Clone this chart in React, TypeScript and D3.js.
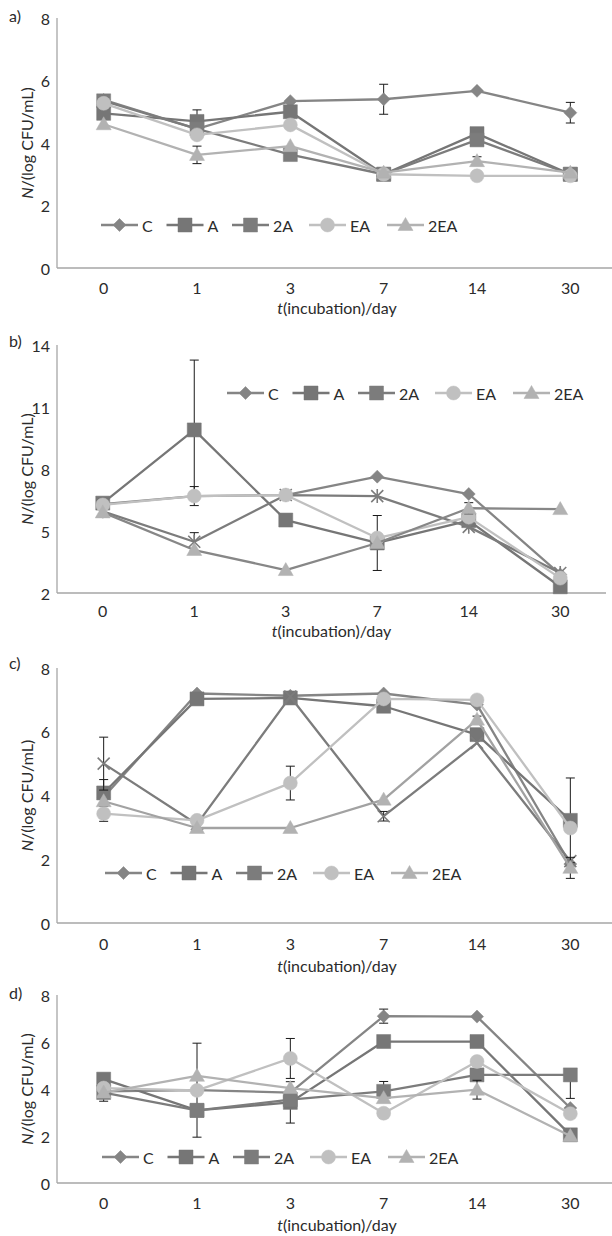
import React from "react";
import * as d3 from "d3";

// ---- data ----
const days = ["0", "1", "3", "7", "14", "30"];
const seriesNames = ["C", "A", "2A", "EA", "2EA"];

// panel a
const aC = [5.38, 4.45, 5.34, 5.4, 5.67, 4.97];
const aA = [4.95, 4.69, 5.0, 3.0, 4.3, 3.0];
const a2A = [5.35, 4.45, 3.63, 3.0, 4.1, 3.0];
const aEA = [5.27, 4.26, 4.58, 3.0, 2.95, 2.95];
const a2EA = [4.6, 3.62, 3.9, 3.05, 3.42, 3.05];
// error bars (0 = none, negative = lower half only)
const aErrC = [0, 0, 0, 0.48, 0, 0.33];
const aErrA = [0, 0.37, 0, 0, 0, 0];
const aErr2A = [0, 0, 0, 0, 0, 0];
const aErrEA = [0, 0, 0, 0, 0, 0];
const aErr2EA = [0, 0.28, 0, 0, 0.14, 0];

// panel b
const bC = [6.3, 6.69, 6.74, 7.63, 6.79, 2.9];
const bA = [6.35, 9.89, 5.53, 4.42, 5.5, 2.3];
const b2A = [5.95, 4.48, 6.74, 6.69, 5.2, 2.97];
const bEA = [6.26, 6.69, 6.74, 4.66, 5.67, 2.72];
const b2EA = [5.9, 4.08, 3.11, 4.42, 6.1, 6.06];
const bErrC = [0, 0, 0, 0, 0, 0];
const bErrA = [0, 3.38, 0, 1.33, 0, 0];
const bErr2A = [0, 0.44, 0, 0, 0, 0];
const bErrEA = [0, 0.46, 0, 0, 0, 0];
const bErr2EA = [0, 0, 0, 0, 0.27, 0];

// panel c
const cC = [3.95, 7.2, 7.13, 7.2, 6.85, 1.85];
const cA = [4.08, 7.03, 7.06, 6.8, 5.91, 3.22];
const c2A = [5.0, 3.1, 7.1, 3.35, 5.65, 1.94];
const cEA = [3.43, 3.22, 4.39, 7.03, 7.0, 2.98];
const c2EA = [3.82, 2.98, 2.98, 3.87, 6.38, 1.73];
const cErrC = [0, 0, 0, 0, 0, 0];
const cErrA = [0.42, 0, 0, 0, 0, 1.33];
const cErr2A = [0.83, 0, 0, 0.15, 0, 0];
const cErrEA = [0.24, 0, 0.53, 0, 0, 0];
const cErr2EA = [0, 0, 0, 0, 0.11, 0.33];

// panel d
const dC = [3.9, 3.95, 3.85, 7.1, 7.08, 3.19];
const dA = [4.42, 3.09, 3.43, 6.02, 6.02, 2.05];
const d2A = [3.85, 3.09, 3.55, 3.9, 4.6, 4.6];
const dEA = [4.04, 3.94, 5.3, 2.97, 5.17, 2.95];
const d2EA = [3.85, 4.56, 4.04, 3.61, 3.97, 2.0];
const dErrC = [0, 2.0, 0, 0.3, 0, 0];
const dErrA = [0, 0, 0.88, 0, 0, 0];
const dErr2A = [0.37, 0, 0, 0.42, 0, -1.0];
const dErrEA = [0, 0, 0.85, 0, 0, 0];
const dErr2EA = [0, 0, 0, 0, 0.4, 0];

const ticks8 = [0, 2, 4, 6, 8];
const ticks14 = [2, 5, 8, 11, 14];

// ---- style ----
const FONT = "Lato, 'Open Sans', sans-serif";
const FS = 16;
const TEXT = "#2b2b2b";
const AXIS = "#a6a6a6";
const colors = ["#858585", "#767676", "#7c7c7c", "#c0c0c0", "#b2b2b2"];
const baseMarkers = ["diamond", "square", "square", "circle", "triangle"];
const legendOffsets = [0, 65.5, 131, 208, 286];

const panels = [
  {
    tag: "a)", tagY: 15, top: 18, bottom: 268, yMin: 0, yMax: 8, ticks: ticks8,
    xRange: [57, 617], legendX: 101, legendY: 225, xLabelY: 287, titleY: 307,
    series: [aC, aA, a2A, aEA, a2EA], errs: [aErrC, aErrA, aErr2A, aErrEA, aErr2EA],
    markers: baseMarkers, lineColors: colors,
  },
  {
    tag: "b)", tagY: 340, top: 345, bottom: 593, yMin: 2, yMax: 14, ticks: ticks14,
    xRange: [57, 606], legendX: 227, legendY: 393, xLabelY: 610, titleY: 630,
    series: [bC, bA, b2A, bEA, b2EA], errs: [bErrC, bErrA, bErr2A, bErrEA, bErr2EA],
    markers: ["diamond", "square", "asterisk", "circle", "triangle"],
    lineColors: ["#858585", "#767676", "#7c7c7c", "#c0c0c0", "#878787"],
  },
  {
    tag: "c)", tagY: 662, top: 668, bottom: 923, yMin: 0, yMax: 8, ticks: ticks8,
    xRange: [57, 617], legendX: 105, legendY: 873, xLabelY: 943, titleY: 965,
    series: [cC, cA, c2A, cEA, c2EA], errs: [cErrC, cErrA, cErr2A, cErrEA, cErr2EA],
    markers: ["diamond", "square", "x", "circle", "triangle"],
    lineColors: ["#858585", "#767676", "#7c7c7c", "#c0c0c0", "#a2a2a2"],
  },
  {
    tag: "d)", tagY: 992, top: 995, bottom: 1183, yMin: 0, yMax: 8, ticks: ticks8,
    xRange: [57, 617], legendX: 102, legendY: 1157, xLabelY: 1202, titleY: 1224,
    series: [dC, dA, d2A, dEA, d2EA], errs: [dErrC, dErrA, dErr2A, dErrEA, dErr2EA],
    markers: baseMarkers, lineColors: colors,
  },
];

function markerPath(kind: string): string {
  const p = d3.path();
  if (kind === "diamond") {
    p.moveTo(0, -6.5); p.lineTo(6.5, 0); p.lineTo(0, 6.5); p.lineTo(-6.5, 0); p.closePath();
  } else if (kind === "square") {
    p.rect(-7, -7, 14, 14);
  } else if (kind === "circle") {
    p.arc(0, 0, 7, 0, Math.PI * 2);
  } else if (kind === "triangle") {
    p.moveTo(0, -7.5); p.lineTo(7.5, 5.5); p.lineTo(-7.5, 5.5); p.closePath();
  } else if (kind === "x") {
    p.moveTo(-6, -6); p.lineTo(6, 6); p.moveTo(6, -6); p.lineTo(-6, 6);
  } else {
    p.moveTo(-6, -6); p.lineTo(6, 6); p.moveTo(6, -6); p.lineTo(-6, 6);
    p.moveTo(0, -7); p.lineTo(0, 7);
  }
  return p.toString();
}

function Marker({ kind, x, y, color }: { kind: string; x: number; y: number; color: string }) {
  const stroked = kind === "x" || kind === "asterisk";
  return (
    <path
      d={markerPath(kind)}
      transform={`translate(${x},${y})`}
      fill={stroked ? "none" : color}
      stroke={color}
      strokeWidth={stroked ? 1.6 : 0.5}
    />
  );
}

function Panel({ p }: { p: any }) {
  const x = d3.scalePoint<string>().domain(days).range(p.xRange).padding(0.5);
  const y = d3.scaleLinear().domain([p.yMin, p.yMax]).range([p.bottom, p.top]);
  const line = d3
    .line<number>()
    .x((_, i) => x(days[i]) as number)
    .y(d => y(d));
  const midY = (p.top + p.bottom) / 2;
  const midX = (p.xRange[0] + p.xRange[1]) / 2;

  return (
    <g>
      <text x={9} y={p.tagY} fontSize={FS} fill={TEXT} dominantBaseline="central">
        {p.tag}
      </text>
      {/* axes */}
      <line x1={57} x2={57} y1={p.top} y2={p.bottom} stroke={AXIS} strokeWidth={1.3} />
      <line x1={57} x2={Math.min(p.xRange[1], 612)} y1={p.bottom} y2={p.bottom} stroke={AXIS} strokeWidth={1.3} />
      {p.ticks.map((t: number) => (
        <text key={t} x={50} y={y(t)} textAnchor="end" dominantBaseline="central" fontSize={FS} fill={TEXT}>
          {t}
        </text>
      ))}
      {days.map(d => (
        <text key={d} x={x(d)} y={p.xLabelY} textAnchor="middle" dominantBaseline="central" fontSize={FS} fill={TEXT}>
          {d}
        </text>
      ))}
      <text x={midX} y={p.titleY} textAnchor="middle" dominantBaseline="central" fontSize={FS} fill={TEXT}>
        <tspan fontStyle="italic">t</tspan>(incubation)/day
      </text>
      <text
        transform={`translate(26,${midY}) rotate(-90)`}
        textAnchor="middle"
        dominantBaseline="central"
        fontSize={FS}
        fill={TEXT}
      >
        <tspan fontStyle="italic">N</tspan>/(log CFU/mL)
      </text>

      {/* series */}
      {p.series.map((vals: number[], si: number) => (
        <g key={si}>
          <path d={line(vals) as string} fill="none" stroke={p.lineColors[si]} strokeWidth={2.3} strokeLinejoin="round" />
          {vals.map((v, i) => {
            const e = p.errs[si][i];
            if (!e) return null;
            const cx = x(days[i]) as number;
            const hi = e > 0 ? y(v + e) : y(v);
            const lo = y(v - Math.abs(e));
            return (
              <g key={i} stroke="#1a1a1a" strokeWidth={1}>
                <line x1={cx} x2={cx} y1={hi} y2={lo} />
                {e > 0 && <line x1={cx - 4.5} x2={cx + 4.5} y1={hi} y2={hi} />}
                <line x1={cx - 4.5} x2={cx + 4.5} y1={lo} y2={lo} />
              </g>
            );
          })}
          {vals.map((v, i) => (
            <Marker key={i} kind={p.markers[si]} x={x(days[i]) as number} y={y(v)} color={colors[si]} />
          ))}
        </g>
      ))}

      {/* legend */}
      {seriesNames.map((name, si) => {
        const gx = p.legendX + legendOffsets[si];
        return (
          <g key={name}>
            <line x1={gx} x2={gx + 37} y1={p.legendY} y2={p.legendY} stroke={colors[si]} strokeWidth={2.3} />
            <Marker kind={baseMarkers[si]} x={gx + 18.5} y={p.legendY} color={colors[si]} />
            <text x={gx + 41} y={p.legendY} dominantBaseline="central" fontSize={FS} fill={TEXT}>
              {name}
            </text>
          </g>
        );
      })}
    </g>
  );
}

export default function App() {
  return (
    <svg
      width={612}
      height={1236}
      style={{ position: "absolute", left: 0, top: 0, background: "#fff" }}
      fontFamily={FONT}
    >
      <rect width={612} height={1236} fill="#fff" />
      {panels.map(p => (
        <Panel key={p.tag} p={p} />
      ))}
    </svg>
  );
}
